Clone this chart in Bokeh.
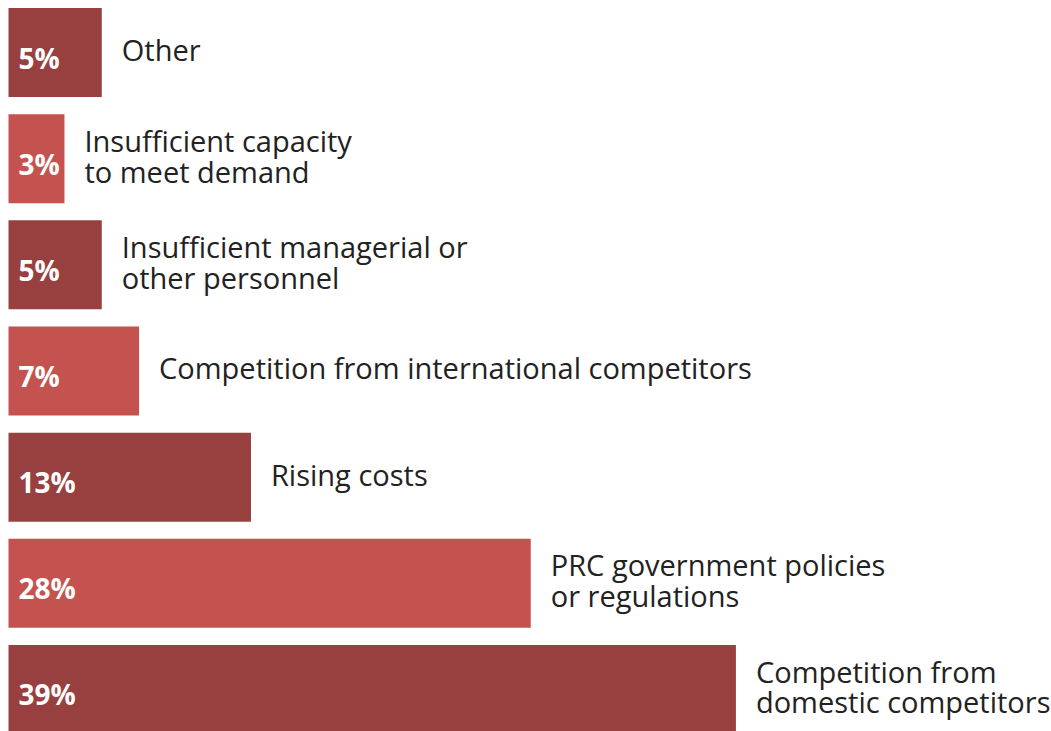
from bokeh.plotting import figure
from bokeh.models import ColumnDataSource, Range1d
from bokeh.core.properties import value
from bokeh.embed import file_html
from bokeh.resources import INLINE

categories = [
    "Other",
    "Insufficient capacity\nto meet demand",
    "Insufficient managerial or\nother personnel",
    "Competition from international competitors",
    "Rising costs",
    "PRC government policies\nor regulations",
    "Competition from\ndomestic competitors",
]
shares = [5, 3, 5, 7, 13, 28, 39]
pct_labels = ["5%", "3%", "5%", "7%", "13%", "28%", "39%"]
colors = ["#983f40", "#c4534f", "#983f40", "#c4534f", "#983f40", "#c4534f", "#983f40"]

pos = list(range(len(categories)))
src = ColumnDataSource(dict(y=pos, v=shares, cat=categories, pct=pct_labels,
                            color=colors, zero=[0] * len(pos)))

p = figure(width=1051, height=731, output_backend="svg", toolbar_location=None,
           x_range=Range1d(-0.429, 55.92), y_range=Range1d(6.3965, -0.4906),
           min_border=0, outline_line_color=None)
p.axis.visible = False
p.grid.visible = False
p.background_fill_color = "white"
p.border_fill_color = "white"

p.hbar(y="y", left=0, right="v", height=0.8385, color="color", line_color=None, source=src)

p.text(x="zero", y="y", text="pct", source=src, x_offset=10, y_offset=5,
       text_font=value("Open Sans"), text_font_style="bold", text_font_size="28px",
       text_color="white", text_baseline="middle", text_align="left")

p.text(x="v", y="y", text="cat", source=src, x_offset=20, y_offset=-3,
       text_font=value("Open Sans"), text_font_size="29px", text_line_height=0.79,
       text_color="#222222", text_baseline="middle", text_align="left")

open("out.html", "w").write(file_html(p, INLINE))
